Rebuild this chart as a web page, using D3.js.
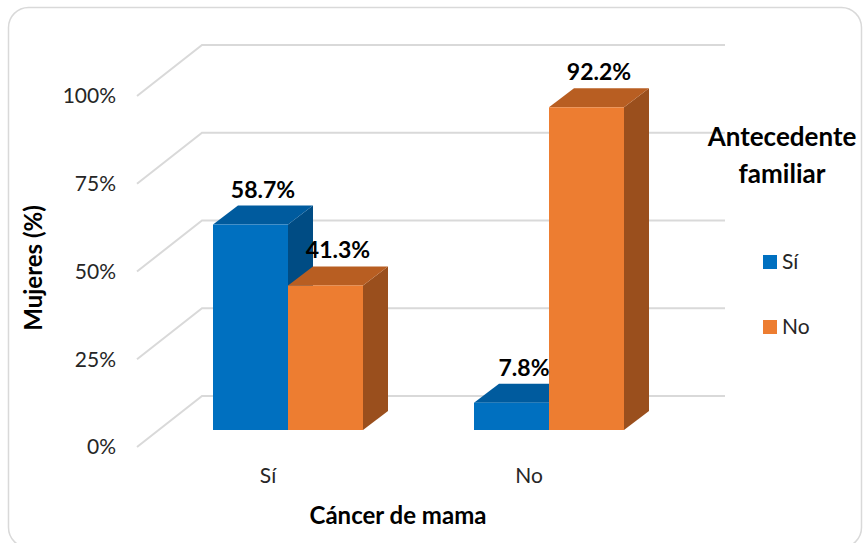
<!DOCTYPE html>
<html><head><meta charset="utf-8">
<script src="https://cdn.jsdelivr.net/npm/d3@7"></script>
<style>body{margin:0;background:#fff}svg{display:block;font-family:Lato,"Open Sans",sans-serif}</style>
</head><body><svg id="c" width="864" height="543"></svg>
<script>
const categories = ["Sí", "No"];
const seriesNames = ["Sí", "No"];
const valuesSi = [58.7, 7.8];
const valuesNo = [41.3, 92.2];
const tickValues = [0, 25, 50, 75, 100];
const tickLabels = ["0%", "25%", "50%", "75%", "100%"];
const xTitle = "Cáncer de mama";
const yTitle = "Mujeres (%)";
const legendTitle = ["Antecedente", "familiar"];

const colors = {
  "Sí": {front: "#0070C0", top: "#005B9E", side: "#004C84"},
  "No": {front: "#ED7D31", top: "#B85E22", side: "#9A4F1D"}
};

const svg = d3.select("#c");
// frame
svg.append("rect").attr("x", 8.5).attr("y", 7.5).attr("width", 853).attr("height", 540)
  .attr("rx", 20).attr("fill", "#fff").attr("stroke", "#d9d9d9").attr("stroke-width", 1.5);

// back wall gridlines
const yBack = d3.scaleLinear().domain([0, 100]).range([396, 45]);
const wallX0 = 202, wallX1 = 725, frontDx = -65, frontDy = 51;
const grid = svg.append("g");
tickValues.forEach(v => {
  const y = yBack(v);
  grid.append("path")
    .attr("d", `M${wallX0 + frontDx},${y + frontDy}L${wallX0},${y}L${wallX1},${y}`)
    .attr("fill", "none").attr("stroke", "#d9d9d9").attr("stroke-width", 2);
});
// tick labels
tickValues.forEach((v, i) => {
  svg.append("text").attr("x", 116).attr("y", yBack(v) + frontDy)
    .attr("dy", "0.35em").attr("text-anchor", "end")
    .attr("font-size", 21).attr("fill", "#262626").text(tickLabels[i]);
});

// bars
const yBar = d3.scaleLinear().domain([0, 100]).range([430, 80]);
const x0 = d3.scaleBand().domain(categories).range([157.5, 679.5]).paddingInner(0.4253).paddingOuter(0.21265);
const x1 = d3.scaleBand().domain(seriesNames).range([0, x0.bandwidth()]);
const dx = 25, dy = -19;
const data = [];
categories.forEach((c, i) => {
  data.push({cat: c, s: "Sí", v: valuesSi[i]});
  data.push({cat: c, s: "No", v: valuesNo[i]});
});
const bars = svg.append("g");
data.forEach(d => {
  const xl = x0(d.cat) + x1(d.s), w = x1.bandwidth();
  const xr = xl + w, yt = yBar(d.v), yb = yBar(0);
  const g = bars.append("g");
  g.append("path").attr("d", `M${xr},${yb}L${xr + dx},${yb + dy}L${xr + dx},${yt + dy}L${xr},${yt}Z`).attr("fill", colors[d.s].side);
  g.append("path").attr("d", `M${xl},${yt}L${xl + dx},${yt + dy}L${xr + dx},${yt + dy}L${xr},${yt}Z`).attr("fill", colors[d.s].top);
  g.append("rect").attr("x", xl).attr("y", yt).attr("width", w).attr("height", yb - yt).attr("fill", colors[d.s].front);
});
// data labels
data.forEach(d => {
  const xl = x0(d.cat) + x1(d.s), w = x1.bandwidth();
  svg.append("text").attr("x", xl + w / 2 + dx / 2).attr("y", yBar(d.v) + dy - 8)
    .attr("text-anchor", "middle").attr("font-size", 23).attr("font-weight", "bold")
    .attr("fill", "#000").text(d.v.toFixed(1) + "%");
});

// category labels
categories.forEach(c => {
  svg.append("text").attr("x", x0(c) + x0.bandwidth() / 2 - 20).attr("y", 483)
    .attr("text-anchor", "middle").attr("font-size", 21).attr("fill", "#262626").text(c);
});

// axis titles
svg.append("text").attr("x", 398).attr("y", 524).attr("text-anchor", "middle")
  .attr("font-size", 24).attr("font-weight", "bold").attr("fill", "#000").text(xTitle);
svg.append("text").attr("transform", "translate(42,268) rotate(-90)").attr("text-anchor", "middle")
  .attr("font-size", 24).attr("font-weight", "bold").attr("fill", "#000").text(yTitle);

// legend
legendTitle.forEach((t, i) => {
  svg.append("text").attr("x", 782).attr("y", 146 + i * 37).attr("text-anchor", "middle")
    .attr("font-size", 26).attr("font-weight", "bold").attr("fill", "#000").text(t);
});
seriesNames.forEach((s, i) => {
  const y = 255 + i * 65;
  svg.append("rect").attr("x", 763).attr("y", y).attr("width", 14).attr("height", 14).attr("fill", colors[s].front);
  svg.append("text").attr("x", 782).attr("y", y + 14).attr("font-size", 21).attr("fill", "#262626").text(s);
});
</script></body></html>
